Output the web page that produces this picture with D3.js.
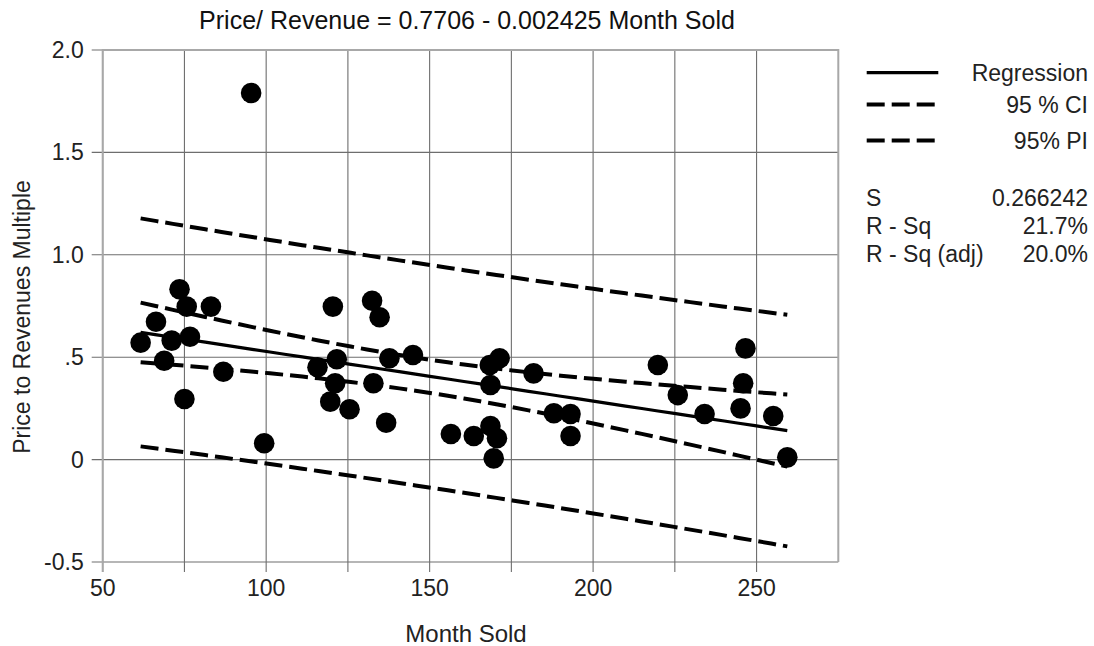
<!DOCTYPE html>
<html>
<head>
<meta charset="utf-8">
<script src="https://cdn.jsdelivr.net/npm/d3@7"></script>
<style>
  html, body { margin: 0; padding: 0; background: #fff; }
  svg { display: block; font-family: "Liberation Sans", Arial, Helvetica, sans-serif; }
</style>
</head>
<body>
<svg id="chart" width="1094" height="646"></svg>
<script>
// Month each company was sold
const monthSold = [
  61.6, 66.3, 68.8, 71.1, 73.5, 75.0, 75.7, 76.7, 83.1, 86.9, 95.4, 99.4,
  115.7, 119.6, 120.4, 121.1, 121.6, 125.5, 132.4, 132.8, 134.7, 136.7, 137.7, 144.9,
  156.5, 163.5, 168.4, 168.6, 168.6, 169.6, 170.6, 171.4,
  181.8, 188.0, 193.1, 193.1, 219.8, 225.9, 234.1, 245.1, 245.9, 246.6, 255.1, 259.4
];
// Price to revenues multiple for each sale
const priceRevenue = [
  0.571, 0.673, 0.483, 0.581, 0.832, 0.296, 0.747, 0.600, 0.747, 0.429, 1.790, 0.080,
  0.451, 0.283, 0.747, 0.373, 0.490, 0.246, 0.776, 0.373, 0.695, 0.180, 0.495, 0.511,
  0.125, 0.115, 0.462, 0.364, 0.164, 0.006, 0.104, 0.495,
  0.421, 0.226, 0.223, 0.115, 0.462, 0.315, 0.223, 0.250, 0.373, 0.543, 0.213, 0.011
];

// Fitted model summary
const intercept = 0.7706;
const slope = -0.002425;
const sErr = 0.266242;
const rSq = "21.7%";
const rSqAdj = "20.0%";
const tCrit = 2.018; // t(0.975, n - 2 = 42)

const xTicksMajor = [50, 100, 150, 200, 250];
const xTicksAll = [50, 75, 100, 125, 150, 175, 200, 225, 250];
const yTicks = [-0.5, 0, 0.5, 1.0, 1.5, 2.0];
const yTickLabels = ["-0.5", "0", ".5", "1.0", "1.5", "2.0"];

const legendItems = ["Regression", "95 % CI", "95% PI"];
const statLabels = ["S", "R - Sq", "R - Sq (adj)"];
const statValues = [sErr.toFixed(6), rSq, rSqAdj];

const svg = d3.select("#chart");
const plotL = 102.7, plotR = 838.3, plotT = 50, plotB = 562;

const x = d3.scaleLinear().domain([50, 275]).range([plotL, plotR]);
const y = d3.scaleLinear().domain([-0.5, 2.0]).range([plotB, plotT]);

// grid lines (extend past the axes as tick marks)
const grid = svg.append("g");
grid.selectAll("line.v").data(xTicksAll).join("line")
  .attr("x1", d => x(d)).attr("x2", d => x(d))
  .attr("y1", plotT).attr("y2", plotB + 10)
  .attr("stroke", "#6e6e6e").attr("stroke-width", 1.1);
grid.selectAll("line.h").data(yTicks).join("line")
  .attr("x1", plotL - 11).attr("x2", plotR)
  .attr("y1", d => y(d)).attr("y2", d => y(d))
  .attr("stroke", "#6e6e6e").attr("stroke-width", 1.1);

// frame
svg.append("path")
  .attr("d", `M${plotL},${plotB + 10}V${plotT}H${plotR}V${plotB}`)
  .attr("fill", "none").attr("stroke", "#a8a8a8").attr("stroke-width", 2);

// tick labels
svg.append("g").selectAll("text").data(xTicksMajor).join("text")
  .attr("x", d => x(d)).attr("y", plotB + 34)
  .attr("text-anchor", "middle")
  .attr("font-size", 23).attr("fill", "#222")
  .text(d => d);
svg.append("g").selectAll("text").data(yTicks).join("text")
  .attr("x", plotL - 19).attr("y", d => y(d) + 8)
  .attr("text-anchor", "end")
  .attr("font-size", 23).attr("fill", "#222")
  .text((d, i) => yTickLabels[i]);

// axis titles and heading
svg.append("text").attr("x", 466).attr("y", 642)
  .attr("text-anchor", "middle").attr("font-size", 24).attr("fill", "#222")
  .text("Month Sold");
svg.append("text").attr("transform", "translate(30,317) rotate(-90)")
  .attr("text-anchor", "middle").attr("font-size", 23).attr("fill", "#222")
  .text("Price to Revenues Multiple");
svg.append("text").attr("x", 467).attr("y", 29)
  .attr("text-anchor", "middle").attr("font-size", 25).attr("fill", "#111")
  .text("Price/ Revenue = 0.7706 - 0.002425 Month Sold");

// regression with confidence and prediction bands
const n = monthSold.length;
const xBar = d3.mean(monthSold);
const sxx = d3.sum(monthSold, v => (v - xBar) ** 2);
const [xMin, xMax] = d3.extent(monthSold);
const xs = d3.range(0, 41).map(i => xMin + (xMax - xMin) * i / 40);
const fit = v => intercept + slope * v;
const ciHalf = v => tCrit * sErr * Math.sqrt(1 / n + (v - xBar) ** 2 / sxx);
const piHalf = v => tCrit * sErr * Math.sqrt(1 + 1 / n + (v - xBar) ** 2 / sxx);

const line = d3.line().x(d => x(d[0])).y(d => y(d[1]));
const bands = [
  { f: v => fit(v) + piHalf(v), dash: true },
  { f: v => fit(v) - piHalf(v), dash: true },
  { f: v => fit(v) + ciHalf(v), dash: true },
  { f: v => fit(v) - ciHalf(v), dash: true },
  { f: fit, dash: false }
];

// points
svg.append("g").selectAll("circle").data(monthSold).join("circle")
  .attr("cx", d => x(d)).attr("cy", (d, i) => y(priceRevenue[i]))
  .attr("r", 10.3).attr("fill", "#000");

svg.append("g").selectAll("path").data(bands).join("path")
  .attr("d", b => line(xs.map(v => [v, b.f(v)])))
  .attr("fill", "none").attr("stroke", "#000")
  .attr("stroke-width", b => b.dash ? 4 : 3.2)
  .attr("stroke-dasharray", b => b.dash ? "18 7" : null);

// legend
const lg = svg.append("g");
const legendY = [72.7, 104.5, 140.5];
legendItems.forEach((t, i) => {
  lg.append("line")
    .attr("x1", 866.7).attr("x2", 938.3)
    .attr("y1", legendY[i]).attr("y2", legendY[i])
    .attr("stroke", "#000").attr("stroke-width", i === 0 ? 3.2 : 4)
    .attr("stroke-dasharray", i === 0 ? null : "18 7");
  lg.append("text").attr("x", 1088).attr("y", legendY[i] + 8.5)
    .attr("text-anchor", "end").attr("font-size", 23).attr("fill", "#222")
    .text(t);
});
const statY = [206, 234, 262];
statLabels.forEach((t, i) => {
  lg.append("text").attr("x", 866).attr("y", statY[i])
    .attr("font-size", 23).attr("fill", "#222").text(t);
  lg.append("text").attr("x", 1088).attr("y", statY[i])
    .attr("text-anchor", "end").attr("font-size", 23).attr("fill", "#222")
    .text(statValues[i]);
});
</script>
</body>
</html>
